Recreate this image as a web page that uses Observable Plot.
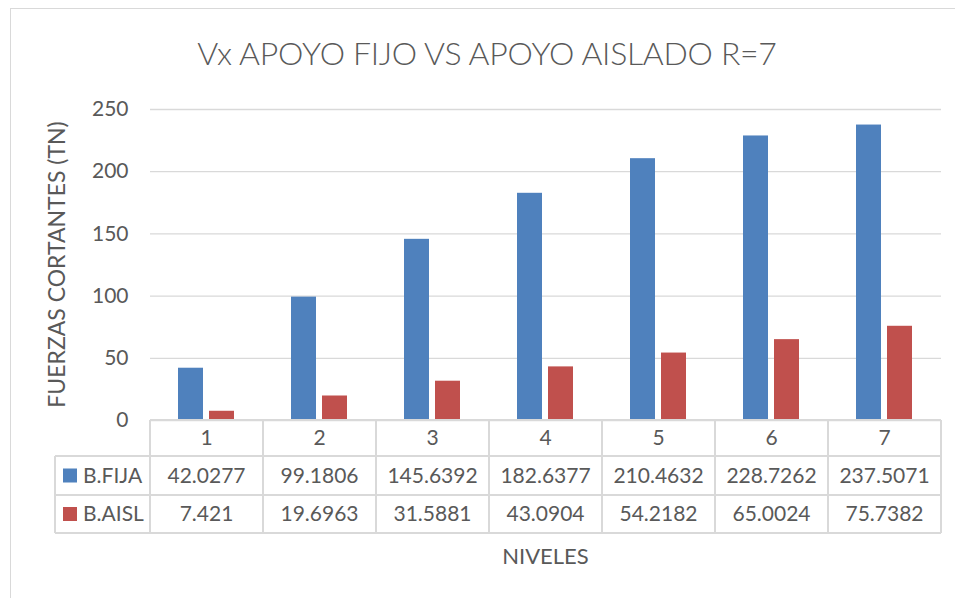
<!DOCTYPE html>
<html><head><meta charset="utf-8">
<script src="https://cdn.jsdelivr.net/npm/d3@7"></script>
<script src="https://cdn.jsdelivr.net/npm/@observablehq/plot@0.6"></script>
<style>
body{margin:0;background:#fff;}
#wrap{position:relative;width:955px;height:598px;overflow:hidden;font-family:Lato,"Open Sans",sans-serif;}
#frame{position:absolute;left:10px;top:8px;width:960px;height:600px;border:1px solid #d9d9d9;box-sizing:border-box;}
#title{position:absolute;left:0;top:33px;width:974px;text-align:center;font-size:32px;font-weight:300;color:#595959;letter-spacing:-0.3px;}
#chart{position:absolute;left:0;top:90px;}
</style></head>
<body><div id="wrap"><div id="frame"></div><div id="title">Vx APOYO FIJO VS APOYO AISLADO R=7</div><div id="chart"></div></div>
<script>
const niveles = ["1","2","3","4","5","6","7"];
const series = ["B.FIJA","B.AISL"];
const fija = [42.0277, 99.1806, 145.6392, 182.6377, 210.4632, 228.7262, 237.5071];
const aisl = [7.421, 19.6963, 31.5881, 43.0904, 54.2182, 65.0024, 75.7382];
const yTicks = [0, 50, 100, 150, 200, 250];
const colors = ["#4F81BD", "#C0504D"];

const data = [];
niveles.forEach((n, i) => {
  data.push({nivel: n, serie: series[0], valor: fija[i]});
  data.push({nivel: n, serie: series[1], valor: aisl[i]});
});
const values = {[series[0]]: fija, [series[1]]: aisl};

const plot = Plot.plot({
  width: 955, height: 508,
  marginTop: 19, marginBottom: 178, marginLeft: 150, marginRight: 14,
  style: {fontFamily: "Lato, 'Open Sans', sans-serif", fontSize: "21px", color: "#595959", background: "transparent"},
  fx: {domain: niveles, padding: 0, axis: null},
  x: {domain: series, paddingInner: 0.1875, paddingOuter: 0.86, axis: null},
  y: {domain: [0, 250], label: null},
  color: {domain: series, range: colors},
  marks: [
    Plot.gridY(yTicks, {stroke: "#d9d9d9", strokeOpacity: 1, strokeWidth: 1.3}),
    Plot.barY(data, {fx: "nivel", x: "serie", y: "valor", fill: "serie"}),
    Plot.axisY(yTicks, {tickSize: 0, tickPadding: 22, label: null, fill: "#595959", fontSize: 21})
  ]
});
document.getElementById("chart").appendChild(plot);

// data table below the plot, positioned with the plot's scales
const svg = d3.select(plot);
const fx = plot.scale("fx");
const ys = plot.scale("y");
const y0 = ys.apply(0);
const rowH = [36, 39, 38];
const rTop = [y0, y0 + rowH[0], y0 + rowH[0] + rowH[1], y0 + rowH[0] + rowH[1] + rowH[2]];
const xL = fx.apply(niveles[0]);
const xR = fx.apply(niveles[niveles.length - 1]) + fx.bandwidth;
const legL = 55;
const g = svg.append("g").attr("font-family", "Lato, 'Open Sans', sans-serif").attr("font-size", 21).attr("fill", "#595959");
const line = "#d9d9d9";
// horizontal lines
g.append("line").attr("x1", xL).attr("x2", xR).attr("y1", rTop[0]).attr("y2", rTop[0]).attr("stroke", line).attr("stroke-width", 2);
[1, 2, 3].forEach(k => g.append("line").attr("x1", legL).attr("x2", xR).attr("y1", rTop[k]).attr("y2", rTop[k]).attr("stroke", line).attr("stroke-width", 2));
// vertical lines
niveles.forEach(n => g.append("line").attr("x1", fx.apply(n)).attr("x2", fx.apply(n)).attr("y1", rTop[0]).attr("y2", rTop[3]).attr("stroke", line).attr("stroke-width", 2));
g.append("line").attr("x1", xR).attr("x2", xR).attr("y1", rTop[0]).attr("y2", rTop[3]).attr("stroke", line).attr("stroke-width", 2);
g.append("line").attr("x1", legL).attr("x2", legL).attr("y1", rTop[1]).attr("y2", rTop[3]).attr("stroke", line).attr("stroke-width", 2);
// header
niveles.forEach(n => g.append("text").attr("x", fx.apply(n) + fx.bandwidth / 2).attr("y", (rTop[0] + rTop[1]) / 2).attr("dy", "0.35em").attr("text-anchor", "middle").text(n));
series.forEach((s, k) => {
  const yc = (rTop[k + 1] + rTop[k + 2]) / 2;
  g.append("rect").attr("x", legL + 8).attr("y", yc - 7).attr("width", 14).attr("height", 14).attr("fill", colors[k]);
  g.append("text").attr("x", legL + 28).attr("y", yc).attr("dy", "0.35em").attr("text-anchor", "start").text(s);
  niveles.forEach((n, i) => g.append("text").attr("x", fx.apply(n) + fx.bandwidth / 2).attr("y", yc).attr("dy", "0.35em").attr("text-anchor", "middle").text(String(values[s][i])));
});
// axis titles
g.append("text").attr("x", (xL + xR) / 2).attr("y", 466).attr("dy", "0.35em").attr("text-anchor", "middle").attr("font-size", 22).text("NIVELES");
g.append("text").attr("transform", `translate(57,${(ys.apply(0) + ys.apply(250)) / 2}) rotate(-90)`).attr("dy", "0.35em").attr("text-anchor", "middle").attr("font-size", 23).text("FUERZAS CORTANTES (TN)");
</script></body></html>
